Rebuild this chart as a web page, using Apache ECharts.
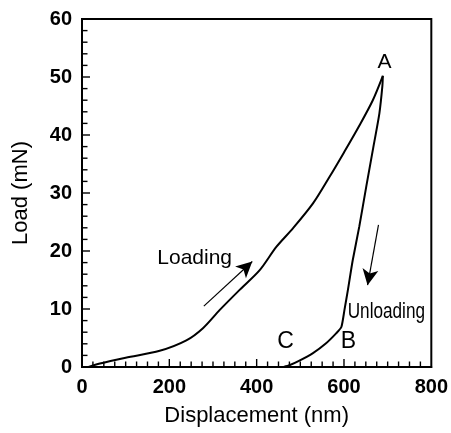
<!DOCTYPE html>
<html>
<head>
<meta charset="utf-8">
<script src="https://cdn.jsdelivr.net/npm/echarts@6/dist/echarts.min.js"></script>
<style>
  html, body { margin: 0; padding: 0; background: #fff; }
  #chart { width: 451px; height: 433px; }
</style>
</head>
<body>
<div id="chart"></div>
<script>
// loading curve (displacement nm, load mN)
const loadX = [15, 41, 100, 178, 239, 277, 315, 361, 407, 445, 483, 529, 567, 600, 635, 666, 689];
const loadY = [0, 0.6, 1.6, 2.8, 4.6, 6.7, 9.8, 13.3, 16.7, 20.7, 23.9, 28.2, 32.8, 37.0, 41.6, 46.0, 50.2];
// unloading curve
const unloadX = [689, 688, 681, 666, 651, 635, 620, 609, 601, 594, 582, 559, 529, 498, 475, 462];
const unloadY = [50.2, 48.5, 43.7, 37.4, 31.1, 24.2, 18.4, 13.3, 9.8, 6.9, 5.8, 4.1, 2.4, 1.1, 0.3, 0];
// annotation texts and their places in data units
const labelNames = ['A', 'Loading', 'Unloading', 'C', 'B'];
const labelX = [693, 258, 697, 466, 610];
const labelY = [52.6, 18.8, 9.5, 4.3, 4.3];
const labelSize = [21, 21, 22, 23, 23];
const labelScaleX = [1, 1, 0.78, 1, 1];
// arrows [from, to]
const arrowLoading = [[279, 10.5], [390, 18.2]];
const arrowUnloading = [[679, 24.5], [654, 14.1]];
// inward tick marks: x every 25 nm (major 200), y every 2 mN (major 10)
const xTicks = [];
for (let v = 25; v < 800; v += 25) xTicks.push(v);
const yTicks = [];
for (let v = 2; v < 60; v += 2) yTicks.push(v);

const zip = (xs, ys) => xs.map((x, i) => [x, ys[i]]);

let chart = echarts.init(document.getElementById('chart'));
let font = 'Liberation Sans, Arial, sans-serif';
let tickLabel = { color: '#000', fontSize: 20, fontWeight: 'bold', fontFamily: font, margin: 10 };

let option = {
    animation: false,
    grid: {
        left: 82, right: 19, top: 19, bottom: 66,
        show: true, borderColor: '#000', borderWidth: 2
    },
    xAxis: {
        type: 'value', min: 0, max: 800, interval: 200,
        name: 'Displacement (nm)', nameLocation: 'middle', nameGap: 38,
        nameTextStyle: { color: '#000', fontSize: 22, fontFamily: font },
        axisLine: { show: true, onZero: false, lineStyle: { color: '#000', width: 2 } },
        axisTick: { show: false },
        axisLabel: tickLabel,
        splitLine: { show: false }
    },
    yAxis: {
        type: 'value', min: 0, max: 60, interval: 10,
        name: 'Load (mN)', nameLocation: 'middle', nameGap: 50,
        nameTextStyle: { color: '#000', fontSize: 22, fontFamily: font },
        axisLine: { show: true, onZero: false, lineStyle: { color: '#000', width: 2 } },
        axisTick: { show: false },
        axisLabel: tickLabel,
        splitLine: { show: false }
    },
    series: [
        {
            name: 'loading', type: 'line', showSymbol: false, smooth: 0.3,
            data: zip(loadX, loadY),
            lineStyle: { color: '#000', width: 2 },
            markLine: {
                silent: true,
                symbol: ['none', 'arrow'], symbolSize: [12, 16],
                label: { show: false },
                emphasis: { disabled: true },
                lineStyle: { color: '#000', width: 1.2, type: 'solid', opacity: 1 },
                data: [
                    [{ coord: arrowLoading[0] }, { coord: arrowLoading[1] }],
                    [{ coord: arrowUnloading[0] }, { coord: arrowUnloading[1] }]
                ]
            }
        },
        {
            name: 'unloading', type: 'line', showSymbol: false, smooth: 0.2,
            data: zip(unloadX, unloadY),
            lineStyle: { color: '#000', width: 2 }
        }
    ]
};
chart.setOption(option);

// tick marks and annotation texts, placed from data coordinates
let toPx = v => chart.convertToPixel({ xAxisIndex: 0, yAxisIndex: 0 }, v);
let graphics = [];
xTicks.forEach(v => {
    let p = toPx([v, 0]);
    let len = v % 200 === 0 ? 7 : 4.5;
    graphics.push({
        type: 'line', z: 20, silent: true,
        shape: { x1: p[0], y1: p[1] - 1, x2: p[0], y2: p[1] - 1 - len },
        style: { stroke: '#000', lineWidth: 1.4 }
    });
});
yTicks.forEach(v => {
    let p = toPx([0, v]);
    let len = v % 10 === 0 ? 7 : 4.5;
    graphics.push({
        type: 'line', z: 20, silent: true,
        shape: { x1: p[0] + 1, y1: p[1], x2: p[0] + 1 + len, y2: p[1] },
        style: { stroke: '#000', lineWidth: 1.4 }
    });
});
labelNames.forEach((t, i) => {
    let p = toPx([labelX[i], labelY[i]]);
    graphics.push({
        type: 'text', x: p[0], y: p[1], scaleX: labelScaleX[i], z: 20,
        style: {
            text: t, fill: '#000', font: labelSize[i] + 'px ' + font,
            textAlign: 'center', textVerticalAlign: 'middle'
        }
    });
});
chart.setOption({ graphic: graphics });
</script>
</body>
</html>
